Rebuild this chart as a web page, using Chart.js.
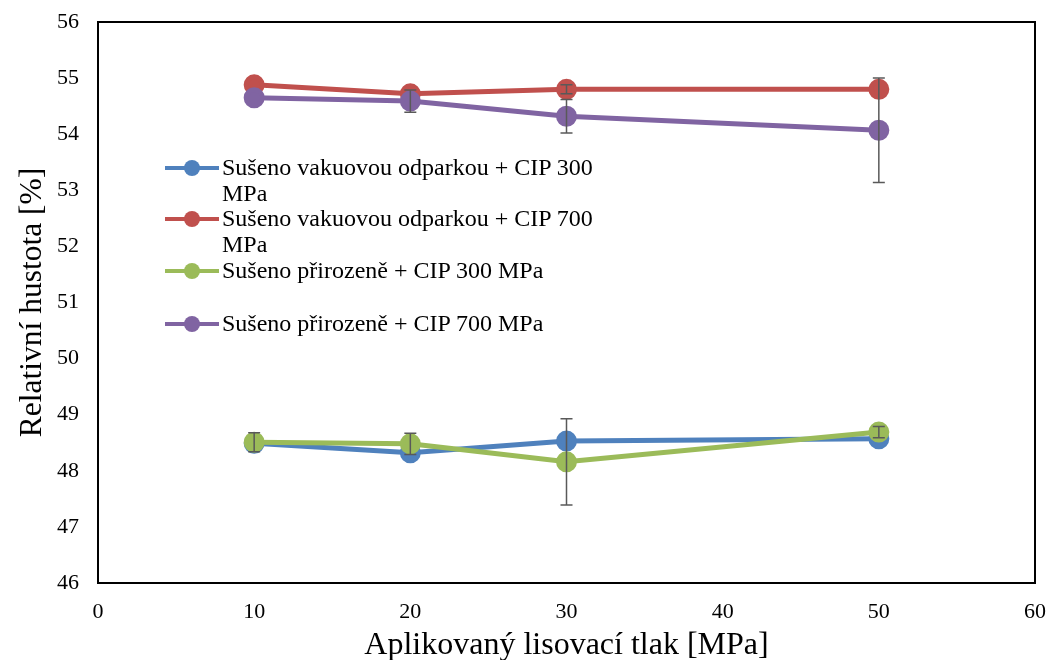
<!DOCTYPE html>
<html>
<head>
<meta charset="utf-8">
<script src="https://cdn.jsdelivr.net/npm/chart.js@4.4.0/dist/chart.umd.min.js"></script>
<style>
  body { margin: 0; background: #fff; }
  #wrap { position: relative; width: 1053px; height: 660px; }
  #legend { position: absolute; left: 165px; top: 155px; font-family: "Liberation Serif", "Times New Roman", serif; font-size: 24px; color: #000; }
  .item { display: flex; align-items: flex-start; line-height: 25.7px; }
  .key { position: relative; width: 54px; height: 25px; margin-right: 3px; flex: none; }
  .key .ln { position: absolute; left: 0; right: 0; top: 11px; height: 4px; }
  .key .dot { position: absolute; left: 19px; top: 5px; width: 16px; height: 16px; border-radius: 50%; }
  .txt { width: 395px; }
</style>
</head>
<body>
<div id="wrap">
  <canvas id="densityChart" width="1053" height="660"></canvas>
  <div id="legend"></div>
</div>
<script>
// pressure on the x axis [MPa]
const pressures = [10, 20, 30, 50];

const seriesNames = [
  'Sušeno vakuovou odparkou + CIP 300 MPa',
  'Sušeno vakuovou odparkou + CIP 700 MPa',
  'Sušeno přirozeně + CIP 300 MPa',
  'Sušeno přirozeně + CIP 700 MPa'
];
const seriesColors = ['#4F81BD', '#C0504D', '#9BBB59', '#8064A2'];

// relative density [%]
const vakuum300 = [48.49, 48.32, 48.53, 48.57];
const vakuum700 = [54.88, 54.72, 54.80, 54.80];
const prirozene300 = [48.51, 48.48, 48.16, 48.69];
const prirozene700 = [54.65, 54.59, 54.32, 54.07];

// error bars (+/-), 0 = too small to see
const vakuum300Err = [0, 0, 0, 0];
const vakuum700Err = [0, 0, 0.08, 0];
const prirozene300Err = [0.17, 0.19, 0.77, 0.10];
const prirozene700Err = [0, 0.20, 0.30, 0.93];

const values = [vakuum300, vakuum700, prirozene300, prirozene700];
const errors = [vakuum300Err, vakuum700Err, prirozene300Err, prirozene700Err];

const serif = "'Liberation Serif', 'Times New Roman', serif";

const errorBars = {
  id: 'errorBars',
  afterDatasetsDraw(chart) {
    const ctx = chart.ctx;
    const xs = chart.scales.x, ys = chart.scales.y;
    ctx.save();
    ctx.strokeStyle = '#595959';
    ctx.lineWidth = 1.5;
    chart.data.datasets.forEach(ds => {
      ds.data.forEach((p, i) => {
        const e = ds.errors[i];
        if (!e) return;
        const x = xs.getPixelForValue(p.x);
        const y1 = ys.getPixelForValue(p.y - e);
        const y2 = ys.getPixelForValue(p.y + e);
        ctx.beginPath();
        ctx.moveTo(x, y1); ctx.lineTo(x, y2);
        ctx.moveTo(x - 6, y1); ctx.lineTo(x + 6, y1);
        ctx.moveTo(x - 6, y2); ctx.lineTo(x + 6, y2);
        ctx.stroke();
      });
    });
    ctx.restore();
  }
};

const frame = {
  id: 'frame',
  afterDraw(chart) {
    const a = chart.chartArea, ctx = chart.ctx;
    ctx.save();
    ctx.strokeStyle = '#000';
    ctx.lineWidth = 2;
    ctx.strokeRect(a.left, a.top, a.right - a.left, a.bottom - a.top);
    ctx.restore();
  }
};

const datasets = values.map((v, k) => ({
  label: seriesNames[k],
  data: pressures.map((p, i) => ({ x: p, y: v[i] })),
  errors: errors[k],
  borderColor: seriesColors[k],
  backgroundColor: seriesColors[k],
  borderWidth: 5,
  pointRadius: 8,
  pointHoverRadius: 8,
  order: 3 - k
}));

new Chart(document.getElementById('densityChart'), {
  type: 'line',
  data: { datasets: datasets },
  options: {
    responsive: false,
    animation: false,
    layout: { padding: { top: 22, right: 18, left: 0, bottom: 0 } },
    plugins: { legend: { display: false }, tooltip: { enabled: false } },
    scales: {
      x: {
        type: 'linear', min: 0, max: 60,
        grid: { display: false, drawTicks: false },
        border: { display: false },
        ticks: { stepSize: 10, padding: 16, color: '#000', font: { family: serif, size: 22 } },
        title: { display: true, text: 'Aplikovaný lisovací tlak [MPa]', color: '#000', font: { family: serif, size: 32 }, padding: { top: -5, bottom: -5 } },
        afterFit: s => { s.height = 77; s.paddingLeft = 0; s.paddingRight = 0; }
      },
      y: {
        min: 46, max: 56,
        grid: { display: false, drawTicks: false },
        border: { display: false },
        ticks: { stepSize: 1, padding: 19, color: '#000', font: { family: serif, size: 22 } },
        title: { display: true, text: 'Relativní hustota [%]', color: '#000', font: { family: serif, size: 31.5 }, padding: { top: 14, bottom: 0 } },
        afterFit: s => { s.width = 98; s.paddingTop = 0; s.paddingBottom = 0; }
      }
    }
  },
  plugins: [errorBars, frame]
});

// legend drawn as html, with wrapped labels like the original
const legend = document.getElementById('legend');
const legendGaps = [0, 0, 27, 0];
seriesNames.forEach((name, k) => {
  const row = document.createElement('div');
  row.className = 'item';
  row.style.marginBottom = legendGaps[k] + 'px';
  row.innerHTML = '<div class="key"><div class="ln" style="background:' + seriesColors[k] + '"></div>' +
    '<div class="dot" style="background:' + seriesColors[k] + '"></div></div><div class="txt">' + name + '</div>';
  legend.appendChild(row);
});
</script>
</body>
</html>
